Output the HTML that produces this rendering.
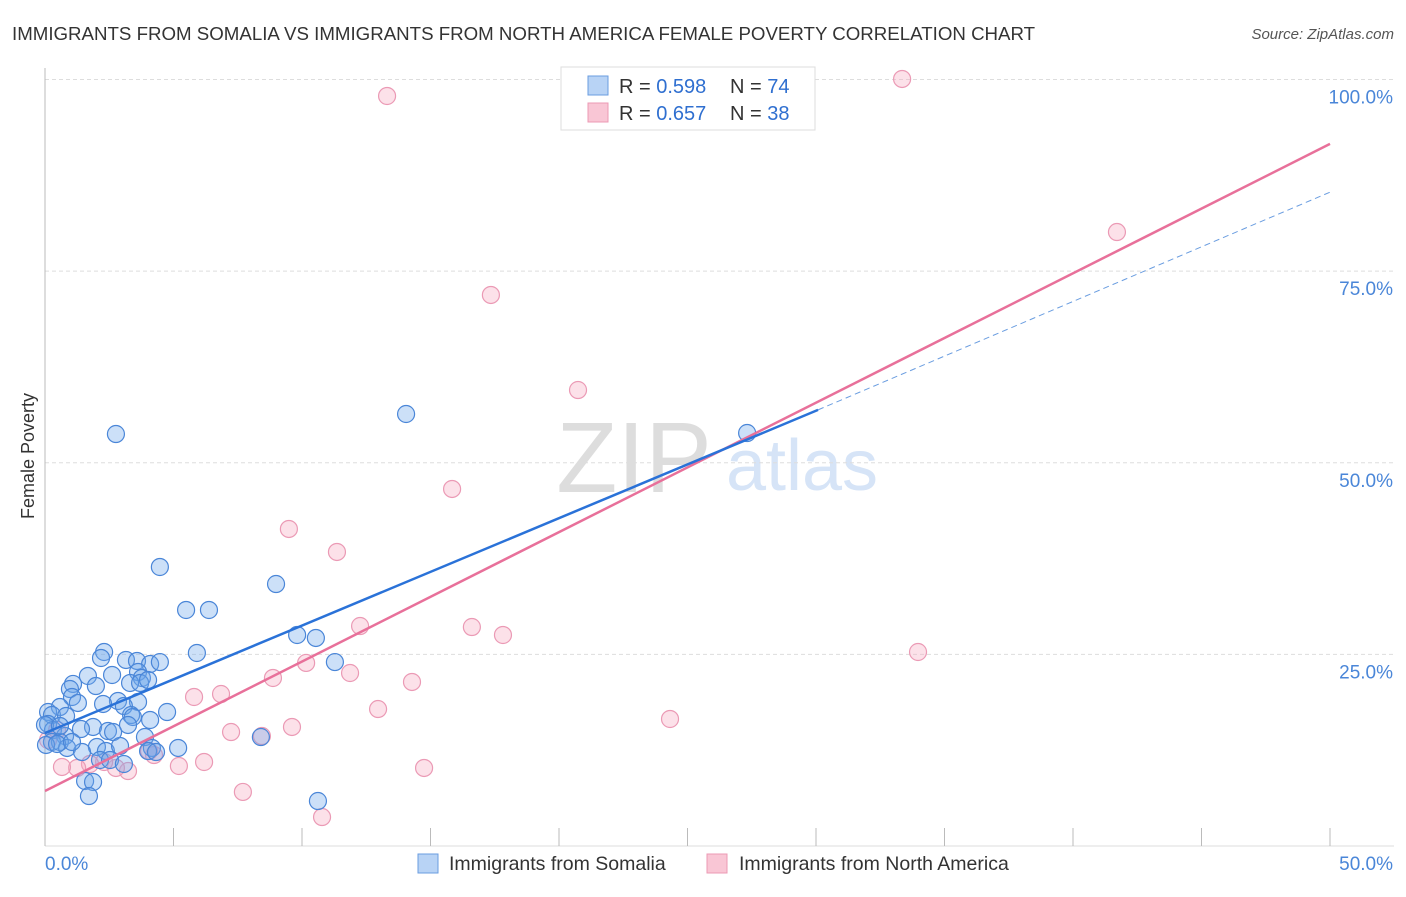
<!DOCTYPE html>
<html><head><meta charset="utf-8"><style>
body{margin:0;background:#fff;font-family:"Liberation Sans",sans-serif;}
svg text{font-family:"Liberation Sans",sans-serif;}
</style></head><body>
<svg id="chart" width="1406" height="892" xmlns="http://www.w3.org/2000/svg">
<text x="12" y="40" font-size="18.7" fill="#333">IMMIGRANTS FROM SOMALIA VS IMMIGRANTS FROM NORTH AMERICA FEMALE POVERTY CORRELATION CHART</text>
<text x="1394" y="39" font-size="15" fill="#555" font-style="italic" text-anchor="end">Source: ZipAtlas.com</text>
<text x="34" y="456" font-size="18" fill="#333" text-anchor="middle" transform="rotate(-90 34 456)">Female Poverty</text>
<g>
<text x="634" y="492" font-size="100" fill="#ddd" font-family="Liberation Serif" text-anchor="middle">ZIP</text>
<text x="802" y="490" font-size="72" fill="#d6e4f7" text-anchor="middle">atlas</text>
</g>
<g id="grid"></g>
<g id="axes"></g>
<g id="points"></g>
<g id="lines"></g>
<g>
<rect x="561" y="67" width="254" height="63" fill="#fff" stroke="#ddd"/>
<rect x="588" y="76" width="20" height="19" fill="#b8d3f5" stroke="#6a9de0"/>
<rect x="588" y="103" width="20" height="19" fill="#f9c6d5" stroke="#ec9ab4"/>
<text x="619" y="93" font-size="20" fill="#333">R = <tspan fill="#2f6fd0">0.598</tspan></text>
<text x="730" y="93" font-size="20" fill="#333">N = <tspan fill="#2f6fd0">74</tspan></text>
<text x="619" y="120" font-size="20" fill="#333">R = <tspan fill="#2f6fd0">0.657</tspan></text>
<text x="730" y="120" font-size="20" fill="#333">N = <tspan fill="#2f6fd0">38</tspan></text>
</g>
<g>
<rect x="418" y="854" width="20" height="19" fill="#b8d3f5" stroke="#6a9de0"/>
<text x="449" y="870" font-size="19.5" fill="#333">Immigrants from Somalia</text>
<rect x="707" y="854" width="20" height="19" fill="#f9c6d5" stroke="#ec9ab4"/>
<text x="739" y="870" font-size="19.5" fill="#333">Immigrants from North America</text>
</g>
</svg>
<script>
const xTickLabels=["0.0%","50.0%"];
const yTickValues=[25,50,75,100];
const yTickLabels=["25.0%","50.0%","75.0%","100.0%"];
const somaliaX=[2.76,14.05,27.32,4.47,8.99,5.49,6.38,9.81,10.54,11.28,5.91,2.30,2.18,3.15,3.58,4.09,4.47,1.67,1.09,0.97,1.98,3.62,3.77,3.31,2.61,1.05,1.28,0.58,0.12,0.27,0.82,2.84,3.62,3.07,4.75,3.35,3.42,4.09,1.87,3.23,2.45,2.65,1.40,0.12,0.31,0.78,0.27,0.58,0.86,2.02,2.37,2.92,3.89,4.16,5.18,1.44,2.14,2.53,3.07,4.01,4.32,1.56,1.87,1.71,10.62,8.40,0.0,0.04,0.47,1.05,2.26,3.70,0.58,4.01];
const somaliaY=[53.75,56.36,53.88,36.4,34.18,30.79,30.79,27.53,27.14,24.0,25.18,25.31,24.53,24.27,24.14,23.74,24.0,22.18,21.14,20.48,20.87,22.70,21.92,21.27,22.31,19.44,18.66,18.13,17.48,17.09,16.96,18.92,18.79,18.26,17.48,17.09,16.83,16.44,15.53,15.79,15.0,14.87,15.26,15.92,15.13,14.35,13.57,13.57,12.79,12.92,12.39,13.05,14.22,12.79,12.79,12.26,11.22,11.22,10.70,12.39,12.26,8.48,8.35,6.52,5.87,14.22,15.79,13.18,13.31,13.57,18.53,21.27,15.66,21.66];
const naX=[33.35,13.31,41.71,17.35,20.74,15.84,9.49,11.36,12.26,16.61,17.82,10.16,11.87,8.87,14.28,5.80,6.85,12.96,7.24,9.61,8.44,24.32,33.97,7.70,10.78,14.75,6.19,5.21,4.24,4.05,3.23,2.76,2.30,1.75,1.25,0.66,0.12,0.47];
const naY=[100.07,97.85,80.1,71.89,59.49,46.58,41.36,38.36,28.70,28.57,27.53,23.88,22.57,21.92,21.40,19.44,19.83,17.87,14.87,15.53,14.35,16.57,25.31,7.05,3.78,10.18,10.96,10.44,11.87,12.39,9.78,10.18,10.96,10.70,10.18,10.31,13.83,15.13];
const somaliaTrend=[[0,14.74],[30.08,56.9]];
const somaliaTrendExt=[[30.08,56.9],[50,85.3]];
const naTrend=[[0,7.18],[50,91.6]];

const NS="http://www.w3.org/2000/svg";
function sx(v){return 45+v*25.7;}
function sy(v){return 846-v*7.665;}
function mk(tag,attrs,parent){const e=document.createElementNS(NS,tag);for(const k in attrs)e.setAttribute(k,attrs[k]);parent.appendChild(e);return e;}
const grid=document.getElementById('grid'),axes=document.getElementById('axes'),pts=document.getElementById('points'),lines=document.getElementById('lines');
yTickValues.forEach((v,i)=>{
  const l=mk('line',{x1:45,x2:1394,y1:sy(v),y2:sy(v),stroke:'#ddd','stroke-dasharray':'4,3'},grid);
  
  
  const t=mk('text',{x:1393,y:sy(v)+24,'font-size':19,fill:'#4a86d8','text-anchor':'end'},axes);
  t.textContent=yTickLabels[i];
  
  
});
const ya=mk('line',{x1:45,x2:45,y1:68,y2:846,stroke:'#bbb'},axes);


const xa=mk('line',{x1:45,x2:1394,y1:846,y2:846,stroke:'#ddd'},axes);


for(let k=0;k<=10;k++){
  const tk=mk('line',{x1:sx(k*5),x2:sx(k*5),y1:828,y2:846,stroke:'#bbb'},axes);
  
  
}
const xl0=mk('text',{x:45,y:870,'font-size':19,fill:'#4a86d8'},axes);xl0.textContent=xTickLabels[0];


const xl1=mk('text',{x:1393,y:870,'font-size':19,fill:'#4a86d8','text-anchor':'end'},axes);xl1.textContent=xTickLabels[1];


naX.forEach((x,i)=>{
  const c=mk('circle',{cx:sx(x),cy:sy(naY[i]),r:8.5,fill:'rgba(246,168,192,0.35)',stroke:'#eb9ab5','stroke-width':1.2},pts);
  
  
});
somaliaX.forEach((x,i)=>{
  const c=mk('circle',{cx:sx(x),cy:sy(somaliaY[i]),r:8.5,fill:'rgba(110,165,235,0.35)',stroke:'#4a86d8','stroke-width':1.2},pts);
  
  
});
const l1=mk('line',{x1:sx(naTrend[0][0]),y1:sy(naTrend[0][1]),x2:sx(naTrend[1][0]),y2:sy(naTrend[1][1]),stroke:'#e8709a','stroke-width':2.5},lines);


const l2=mk('line',{x1:sx(somaliaTrend[0][0]),y1:sy(somaliaTrend[0][1]),x2:sx(somaliaTrend[1][0]),y2:sy(somaliaTrend[1][1]),stroke:'#2a72d8','stroke-width':2.5},lines);


const l3=mk('line',{x1:sx(somaliaTrendExt[0][0]),y1:sy(somaliaTrendExt[0][1]),x2:sx(somaliaTrendExt[1][0]),y2:sy(somaliaTrendExt[1][1]),stroke:'#6a9de0','stroke-width':1,'stroke-dasharray':'6,4'},lines);


</script>
</body></html>
